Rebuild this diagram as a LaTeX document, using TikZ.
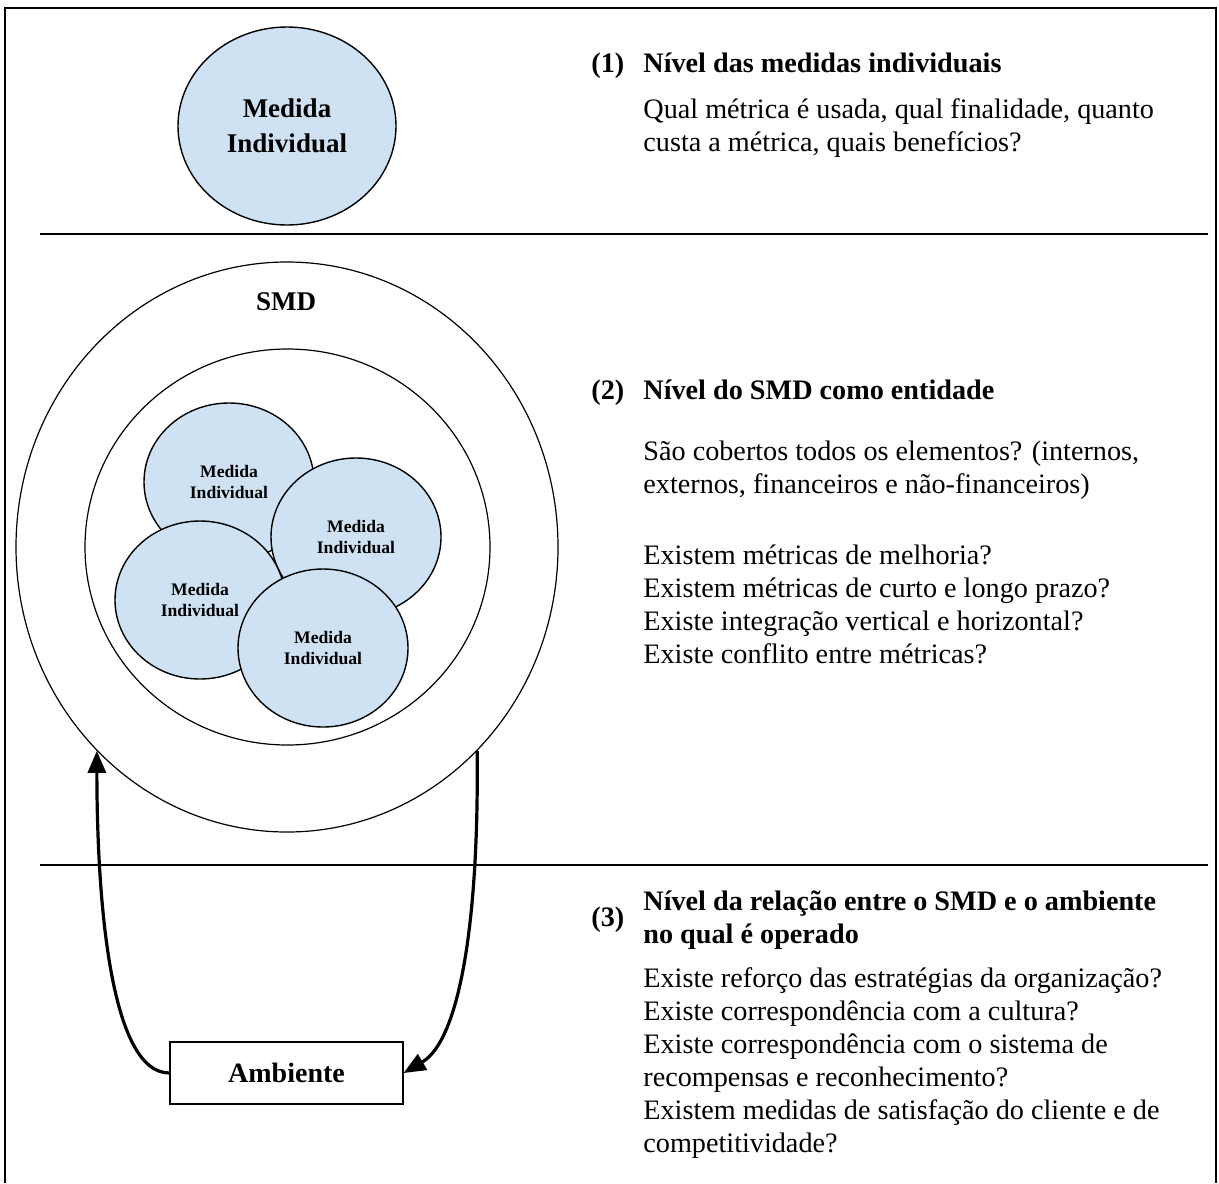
\documentclass[tikz,border=0pt]{standalone}
\usepackage{fontspec}
\setmainfont{Liberation Serif}
\usetikzlibrary{arrows.meta,shapes.geometric}
\definecolor{azul}{HTML}{CFE2F3}

\begin{document}
\begin{tikzpicture}[x=0.5pt, y=-0.5pt,
    medida/.style={ellipse, draw, line width=0.7pt, fill=azul, inner sep=0pt, align=center, minimum width=85pt, minimum height=79pt, font=\bfseries\fontsize{8.8}{10.5}\selectfont},
    anel/.style={ellipse, draw, line width=0.6pt, inner sep=0pt},
    texto/.style={anchor=base west, inner sep=0pt, align=left, font=\fontsize{14.1}{16.5}\selectfont},
    titulo/.style={texto, font=\bfseries\fontsize{14.1}{16.5}\selectfont},
    seta/.style={line width=1.6pt, -{Triangle[length=11pt, width=9pt]}}]
\useasboundingbox (0,0) rectangle (1219,1183);
\draw[line width=1pt] (5,1183) -- (5,8) -- (1216,8) -- (1216,1183);
\draw[line width=0.7pt] (40,234) -- (1208,234);
\draw[line width=0.7pt] (40,865) -- (1208,865);
    \node[medida, minimum width=109pt, minimum height=99pt, font=\bfseries\fontsize{13.5}{17.5}\selectfont] (mi) at (287,126) {Medida\\Individual};
    \node[anel, minimum width=271pt, minimum height=285pt] (smd) at (287,547) {};
    \node[anel, minimum width=202.5pt, minimum height=198pt] (nucleo) at (287.5,547) {};
    \node[font=\bfseries\fontsize{13.5}{16}\selectfont, inner sep=0pt] (rotulo) at (286,302) {SMD};
    \foreach \nome/\pos in {m1/{(229,482)}, m2/{(356,537)}, m3/{(200,600)}, m4/{(323,648)}}
        \node[medida] (\nome) at \pos {Medida\\Individual};
    \node[draw, line width=0.6pt, minimum width=116.5pt, minimum height=31pt, inner sep=0pt, font=\bfseries\fontsize{14}{16}\selectfont] (amb) at (286.5,1073) {Ambiente};
\draw[seta] (amb.west) .. controls (110,1073) and (97,900) .. (smd.227);
\draw[seta] (smd.313) .. controls (479,920) and (460,1040) .. (amb.east);
    \node[titulo] (n1) at (591,72) {(1)};
    \node[titulo] (t1) at (643,72) {Nível das medidas individuais};
    \node[texto] (q1) at (643,151) {Qual métrica é usada, qual finalidade, quanto\\custa a métrica, quais benefícios?};
    \node[titulo] (n2) at (591,399) {(2)};
    \node[titulo] (t2) at (643,399) {Nível do SMD como entidade};
    \node[texto] (q2) at (643,493) {São cobertos todos os elementos? (internos,\\externos, financeiros e não-financeiros)};
    \node[texto] (q3) at (643,663) {Existem métricas de melhoria?\\Existem métricas de curto e longo prazo?\\Existe integração vertical e horizontal?\\Existe conflito entre métricas?};
    \node[titulo] (n3) at (591,926) {(3)};
    \node[titulo] (t3) at (643,943) {Nível da relação entre o SMD e o ambiente\\no qual é operado};
    \node[texto] (q4) at (643,1152) {Existe reforço das estratégias da organização?\\Existe correspondência com a cultura?\\Existe correspondência com o sistema de\\recompensas e reconhecimento?\\Existem medidas de satisfação do cliente e de\\competitividade?};
\end{tikzpicture}
\end{document}
